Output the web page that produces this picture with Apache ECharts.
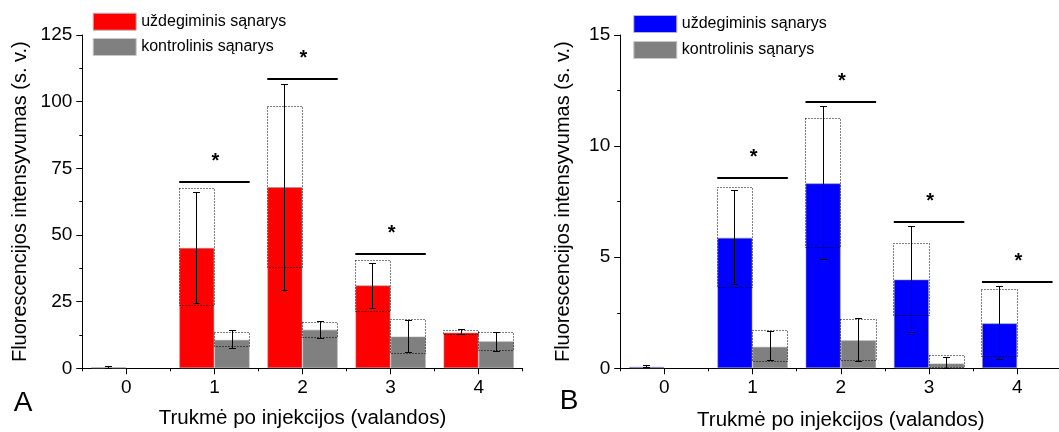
<!DOCTYPE html>
<html>
<head>
<meta charset="utf-8">
<script src="https://cdn.jsdelivr.net/npm/echarts@6/dist/echarts.min.js"></script>
<style>
  html, body { margin: 0; padding: 0; background: #fff; }
  #chart { width: 1059px; height: 432px; }
</style>
</head>
<body>
<div id="chart"></div>
<script>
// Categories and labels
const hours = ['0', '1', '2', '3', '4'];
const inflamedName = 'uždegiminis sąnarys';
const controlName = 'kontrolinis sąnarys';
const xTitle = 'Trukmė po injekcijos (valandos)';
const yTitle = 'Fluorescencijos intensyvumas (s. v.)';
const yTicksA = [0, 25, 50, 75, 100, 125];
const yTicksB = [0, 5, 10, 15];

// Panel A: means, dotted boxes (low/high) and whiskers (low/high)
const aInflamedMean = [0.4, 45.2, 68.0, 31.1, 13.4];
const aInflamedBoxLow = [null, 23.4, 37.9, 21.4, 12.7];
const aInflamedBoxHigh = [null, 67.4, 98.1, 40.5, 14.1];
const aInflamedWhiskLow = [0.1, 24.4, 29.2, 22.6, 12.5];
const aInflamedWhiskHigh = [0.7, 66.1, 106.4, 39.2, 14.5];

const aControlMean = [null, 10.7, 14.5, 11.9, 10.1];
const aControlBoxLow = [null, 8.1, 11.6, 5.6, 6.7];
const aControlBoxHigh = [null, 13.5, 17.1, 18.4, 13.4];
const aControlWhiskLow = [null, 7.5, 11.0, 6.0, 6.4];
const aControlWhiskHigh = [null, 14.0, 17.7, 18.1, 13.6];

const aSignificance = [null, 69.9, 108.6, 42.9, null];

// Panel B
const bInflamedMean = [0.07, 5.88, 8.33, 4.0, 2.03];
const bInflamedBoxLow = [null, 3.65, 5.43, 2.39, 0.52];
const bInflamedBoxHigh = [null, 8.14, 11.22, 5.61, 3.54];
const bInflamedWhiskLow = [0.02, 3.77, 4.91, 1.6, 0.41];
const bInflamedWhiskHigh = [0.12, 8.0, 11.76, 6.4, 3.68];

const bControlMean = [null, 0.97, 1.26, 0.22, null];
const bControlBoxLow = [null, 0.30, 0.33, 0.05, null];
const bControlBoxHigh = [null, 1.70, 2.19, 0.57, null];
const bControlWhiskLow = [null, 0.36, 0.30, 0.0, null];
const bControlWhiskHigh = [null, 1.65, 2.22, 0.48, null];

const bSignificance = [null, 8.57, 12.0, 6.6, 3.87];

const FONT = '"Liberation Sans", Arial, sans-serif';
const RED = '#ff0000', BLUE = '#0000ff', GRAY = '#808080';

function toItems(boxLow, boxHigh, whiskLow, whiskHigh) {
  const out = [];
  for (let i = 0; i < hours.length; i++) {
    if (whiskLow[i] == null && boxLow[i] == null) continue;
    out.push([i,
      boxLow[i] == null ? '-' : boxLow[i],
      boxHigh[i] == null ? '-' : boxHigh[i],
      whiskLow[i] == null ? '-' : whiskLow[i],
      whiskHigh[i] == null ? '-' : whiskHigh[i]]);
  }
  return out;
}

function sigItems(arr) {
  const out = [];
  arr.forEach((v, i) => { if (v != null) out.push([i, v]); });
  return out;
}

// snap a 1px stroke onto the pixel grid so thin lines stay crisp
const snap = (v) => Math.round(v - 0.5) + 0.5;

// Dotted interval box plus whisker, drawn over one bar of a pair
function boxWhisker(side) {
  return function (params, api) {
    const idx = api.value(0);
    const band = api.size([1, 0])[0];
    const cx = api.coord([idx, 0])[0] + side * band * 0.2;
    const half = band * 0.2;
    const children = [];
    const bLo = api.value(1), bHi = api.value(2);
    const wLo = api.value(3), wHi = api.value(4);
    if (!isNaN(bLo) && !isNaN(bHi)) {
      const yLo = snap(api.coord([idx, bLo])[1]);
      const yHi = snap(api.coord([idx, bHi])[1]);
      const x0 = snap(cx - half), x1 = snap(cx + half);
      children.push({
        type: 'rect',
        shape: { x: x0, y: yHi, width: x1 - x0, height: yLo - yHi },
        style: { fill: 'none', stroke: '#000', lineWidth: 1, lineDash: [1, 2] }
      });
    }
    if (!isNaN(wLo) && !isNaN(wHi)) {
      const yLo = snap(api.coord([idx, wLo])[1]);
      const yHi = snap(api.coord([idx, wHi])[1]);
      const x = snap(cx);
      const cap = 3.5;
      const st = { stroke: '#000', lineWidth: 1 };
      children.push({ type: 'line', shape: { x1: x, y1: yHi, x2: x, y2: yLo }, style: st });
      children.push({ type: 'line', shape: { x1: x - cap, y1: yHi, x2: x + cap, y2: yHi }, style: st });
      children.push({ type: 'line', shape: { x1: x - cap, y1: yLo, x2: x + cap, y2: yLo }, style: st });
    }
    return { type: 'group', children: children };
  };
}

// Significance bar with asterisk spanning both bars of a hour
function significance(params, api) {
  const idx = api.value(0);
  const band = api.size([1, 0])[0];
  const p = api.coord([idx, api.value(1)]);
  const y = Math.round(p[1]);
  return {
    type: 'group',
    children: [
      { type: 'line', shape: { x1: p[0] - band * 0.4, y1: y, x2: p[0] + band * 0.4, y2: y },
        style: { stroke: '#000', lineWidth: 2 } },
      { type: 'text', style: { text: '*', x: p[0] + 1, y: y - 21, align: 'center', verticalAlign: 'middle',
        font: 'bold 20px ' + FONT, fill: '#000' } }
    ]
  };
}

function catAxis(gridIndex, nameGap) {
  return {
    type: 'category', gridIndex: gridIndex, data: hours, position: 'bottom',
    axisLine: { show: true, lineStyle: { color: '#000', width: 1 } },
    axisTick: { show: true, alignWithLabel: true, length: 6, lineStyle: { color: '#000' } },
    axisLabel: { fontSize: 19, fontFamily: FONT, color: '#000', margin: 10 },
    splitLine: { show: false },
    name: xTitle, nameLocation: 'middle', nameGap: nameGap,
    nameTextStyle: { fontSize: 20.5, fontFamily: FONT, color: '#000' }
  };
}
function boundaryAxis(gridIndex) {
  return {
    type: 'category', gridIndex: gridIndex, data: hours, position: 'bottom',
    axisLine: { show: false },
    axisTick: { show: true, alignWithLabel: false, length: 3, lineStyle: { color: '#000' } },
    axisLabel: { show: false },
    splitLine: { show: false }
  };
}
function valAxis(gridIndex, ticks, nameGap) {
  return {
    type: 'value', gridIndex: gridIndex,
    min: ticks[0], max: ticks[ticks.length - 1], interval: ticks[1] - ticks[0],
    axisLine: { show: true, lineStyle: { color: '#000', width: 1 } },
    axisTick: { show: true, length: 6, lineStyle: { color: '#000' } },
    minorTick: { show: true, splitNumber: 2, length: 3, lineStyle: { color: '#000' } },
    axisLabel: { fontSize: 19, fontFamily: FONT, color: '#000', margin: 10 },
    splitLine: { show: false }, minorSplitLine: { show: false },
    name: yTitle, nameLocation: 'middle', nameGap: nameGap,
    nameTextStyle: { fontSize: 20, fontFamily: FONT, color: '#000' }
  };
}

function legendFor(left, top, gap, color) {
  return {
    orient: 'vertical', left: left, top: top, padding: 0,
    itemWidth: 43, itemHeight: 17, itemGap: gap, icon: 'rect', selectedMode: false,
    textStyle: { fontSize: 16, fontFamily: FONT, color: '#000' },
    data: [
      { name: inflamedName, itemStyle: { color: color, borderColor: '#b8b8b8', borderWidth: 1 } },
      { name: controlName, itemStyle: { color: GRAY, borderColor: '#c8c8c8', borderWidth: 1 } }
    ]
  };
}

function barSeries(name, data, color, xi, yi) {
  return {
    type: 'bar', name: name, xAxisIndex: xi, yAxisIndex: yi, data: data,
    barGap: '0%', barCategoryGap: '20%', barMinHeight: 0,
    itemStyle: { color: color, borderColor: 'rgba(150,150,150,0.55)', borderWidth: 1 },
    emphasis: { disabled: true }, animation: false, z: 2
  };
}
function overlay(data, side, xi, yi) {
  return { type: 'custom', xAxisIndex: xi, yAxisIndex: yi, data: data,
    renderItem: boxWhisker(side), z: 4, silent: true, animation: false };
}
function sigSeries(data, xi, yi) {
  return { type: 'custom', xAxisIndex: xi, yAxisIndex: yi, data: data,
    renderItem: significance, z: 5, silent: true, animation: false };
}

const option = {
  backgroundColor: '#fff',
  animation: false,
  grid: [
    { left: 82.3, right: 536.3, top: 35, bottom: 63.7, outerBoundsMode: 'none', containLabel: false },
    { left: 620.2, right: -2.4, top: 35, bottom: 63.7, outerBoundsMode: 'none', containLabel: false }
  ],
  legend: [legendFor(92.7, 12.7, 7.3, RED), legendFor(633.3, 15, 8, BLUE)],
  xAxis: [catAxis(0, 40), boundaryAxis(0), catAxis(1, 42), boundaryAxis(1)],
  yAxis: [valAxis(0, yTicksA, 52), valAxis(1, yTicksB, 47)],
  graphic: [
    { type: 'text', x: 23, y: 403, style: { text: 'A', font: '28px ' + FONT, align: 'center', verticalAlign: 'middle', fill: '#000' } },
    { type: 'text', x: 569, y: 401, style: { text: 'B', font: '28px ' + FONT, align: 'center', verticalAlign: 'middle', fill: '#000' } }
  ],
  series: [
    barSeries(inflamedName, aInflamedMean, RED, 0, 0),
    barSeries(controlName, aControlMean, GRAY, 0, 0),
    overlay(toItems(aInflamedBoxLow, aInflamedBoxHigh, aInflamedWhiskLow, aInflamedWhiskHigh), -1, 0, 0),
    overlay(toItems(aControlBoxLow, aControlBoxHigh, aControlWhiskLow, aControlWhiskHigh), 1, 0, 0),
    sigSeries(sigItems(aSignificance), 0, 0),
    barSeries(inflamedName, bInflamedMean, BLUE, 2, 1),
    barSeries(controlName, bControlMean, GRAY, 2, 1),
    overlay(toItems(bInflamedBoxLow, bInflamedBoxHigh, bInflamedWhiskLow, bInflamedWhiskHigh), -1, 2, 1),
    overlay(toItems(bControlBoxLow, bControlBoxHigh, bControlWhiskLow, bControlWhiskHigh), 1, 2, 1),
    sigSeries(sigItems(bSignificance), 2, 1)
  ]
};

const chart = echarts.init(document.getElementById('chart'), null, { renderer: 'canvas' });
chart.setOption(option);
</script>
</body>
</html>
